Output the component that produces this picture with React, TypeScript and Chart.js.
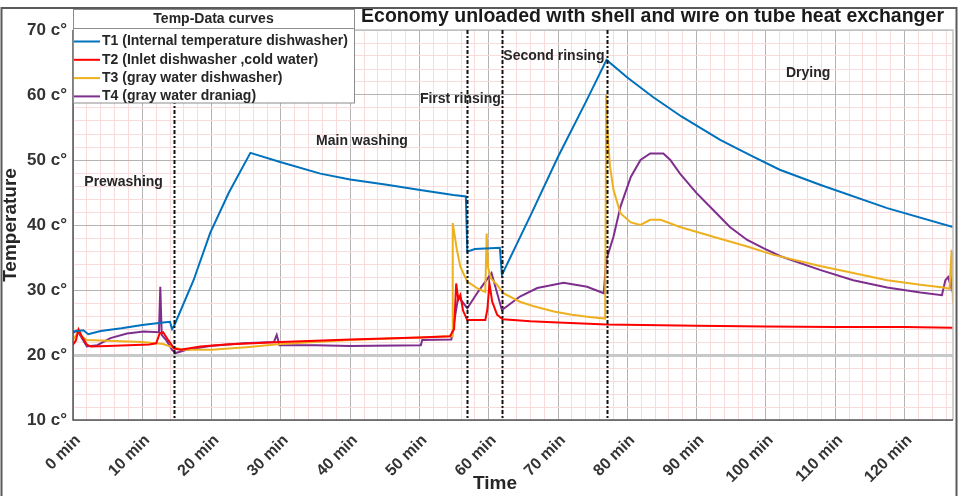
import { useEffect, useRef } from "react";
import { Chart, registerables } from "chart.js";

Chart.register(...registerables);

// ---- measured temperatures (time in minutes, temperature in °C) ----
const t1Time = [0, 1.5, 2.2, 4, 7, 10, 13, 14.0, 14.3, 14.6, 17.4, 19.8, 22.5, 25.6, 29.9, 35.7, 40, 45.3, 50.1, 54.9, 56.7, 56.9, 58, 61.6, 61.9, 66, 70, 74, 77, 80, 83.7, 87.8, 93.4, 98, 102, 107.8, 117.5, 127];
const t1Temp = [23.6, 23.8, 23.2, 23.7, 24.1, 24.6, 25.0, 25.1, 24.0, 24.5, 31.5, 38.8, 45.0, 51.1, 49.7, 47.9, 47.0, 46.2, 45.4, 44.6, 44.4, 35.9, 36.3, 36.5, 32.3, 41.4, 50.5, 58.9, 65.4, 62.7, 59.7, 56.7, 53.1, 50.6, 48.5, 46.2, 42.6, 39.7];

const t2Time = [0, 0.4, 0.8, 1.2, 2.0, 2.6, 5, 8, 11, 12.0, 12.5, 13.0, 13.8, 14.6, 15.5, 18.4, 22, 30, 40, 50, 54.4, 55.0, 55.3, 55.6, 55.9, 56.3, 56.9, 59.5, 59.8, 60.1, 60.5, 61.2, 62, 66, 70, 77, 90, 100, 110, 120, 127];
const t2Temp = [21.6, 22.2, 23.9, 23.0, 21.6, 21.3, 21.4, 21.5, 21.6, 21.8, 23.3, 23.5, 22.2, 21.0, 20.8, 21.3, 21.6, 22.0, 22.4, 22.7, 22.9, 24.0, 31.0, 28.5, 29.2, 26.8, 25.4, 25.4, 27.0, 31.0, 28.2, 26.2, 25.5, 25.2, 25.0, 24.7, 24.5, 24.4, 24.3, 24.3, 24.2];

const t3Time = [0, 0.5, 0.8, 1.3, 2, 5, 10, 13, 14.6, 16, 20, 25, 30, 40, 50, 54.7, 54.8, 55.4, 55.9, 56.9, 58.3, 59.5, 59.7, 59.9, 60.3, 61.2, 62.1, 64.5, 66.5, 69.4, 72, 74.2, 76.8, 76.95, 77.1, 77.5, 78, 79, 80.5, 81.9, 83.3, 84.8, 87.6, 92.4, 97.3, 101.1, 107.8, 112.6, 117.5, 122.3, 125.6, 126.5, 126.8, 127];
const t3Temp = [22.3, 23.2, 24.0, 22.8, 22.3, 22.2, 22.0, 21.7, 21.1, 20.8, 20.8, 21.2, 21.7, 22.3, 22.7, 22.9, 40.3, 36.2, 33.6, 31.3, 30.3, 29.7, 38.7, 33.5, 31.8, 30.8, 29.5, 28.2, 27.5, 26.7, 26.2, 25.9, 25.6, 60.0, 55.1, 49.0, 45.4, 41.8, 40.4, 40.0, 40.8, 40.8, 39.7, 38.2, 36.7, 35.4, 33.7, 32.6, 31.5, 30.8, 30.4, 30.2, 36.2, 28.0];

const t4Time = [0, 0.6, 2, 3.5, 5.4, 7.8, 10.2, 12.4, 12.6, 12.8, 13.5, 14.3, 14.8, 16.4, 19.8, 24.6, 29.0, 29.4, 29.8, 35, 40, 50.2, 50.4, 54.6, 55.6, 56.9, 58.5, 60.4, 61.9, 64.5, 67, 70.8, 74.2, 76.6, 76.95, 78, 79, 80.5, 81.9, 83.3, 85.2, 86.2, 87.6, 90, 92.4, 94.8, 97.3, 99.7, 102.1, 107.8, 112.6, 117.5, 122.3, 125.4, 125.9, 126.3, 126.7, 127];
const t4Temp = [23.4, 23.8, 21.3, 21.5, 22.6, 23.3, 23.6, 23.5, 30.5, 23.1, 22.2, 20.8, 20.3, 20.8, 21.4, 21.8, 22.0, 23.1, 21.5, 21.5, 21.4, 21.5, 22.3, 22.4, 29.0, 27.2, 29.8, 32.6, 26.9, 29.0, 30.3, 31.1, 30.5, 29.5, 34.6, 38.2, 42.8, 47.4, 50.0, 51.0, 51.0, 50.0, 47.9, 44.9, 42.3, 39.7, 37.7, 36.4, 35.2, 33.1, 31.5, 30.4, 29.6, 29.2, 31.5, 32.0, 30.5, 35.9];

const seriesNames = [
  "T1 (Internal temperature dishwasher)",
  "T2 (Inlet dishwasher ,cold water)",
  "T3 (gray water dishwasher)",
  "T4 (gray water draniag)",
];
const seriesColors = ["#0072BD", "#FF0000", "#EDB120", "#7E2F8E"];

// program phase boundaries (minutes)
const phaseBoundaries = [14.6, 56.9, 61.9, 77.0];
const phaseNames = ["Prewashing", "Main washing", "First rinsing", "Second rinsing", "Drying"];
// label anchors in data units: [minutes, °C]
const phaseAnchors: [number, number][] = [[7.3, 46.6], [41.7, 52.9], [55.9, 59.4], [69.4, 66.0], [106.1, 63.4]];

const xMajorTicks = [0, 10, 20, 30, 40, 50, 60, 70, 80, 90, 100, 110, 120];
const yMajorTicks = [10, 20, 30, 40, 50, 60, 70];

const chartTitle = "Economy unloaded with shell and wire on tube heat exchanger";
const legendTitle = "Temp-Data curves";

const FONT = '"Liberation Sans", Arial, Helvetica, sans-serif';
const TEXT = "#262626";
const MAJOR_GRID = "#b4b4b4";
const MINOR_GRID = "#f8dcdc";

export default function App() {
  const ref = useRef<HTMLCanvasElement | null>(null);

  useEffect(() => {
    document.body.style.margin = "0";
    const canvas = ref.current!;
    const toPoints = (ts: number[], vs: number[]) => ts.map((t, i) => ({ x: t, y: vs[i] }));
    const series = [
      toPoints(t1Time, t1Temp),
      toPoints(t2Time, t2Temp),
      toPoints(t3Time, t3Temp),
      toPoints(t4Time, t4Temp),
    ];

    const overlay = {
      id: "overlay",
      afterDatasetsDraw(chart: any) {
        const { ctx, chartArea: a, scales } = chart;
        const xs = scales.x;
        const ys = scales.y;
        ctx.save();
        // plot box: light top/right, dark axes
        ctx.lineWidth = 1.5;
        ctx.strokeStyle = "#c4c4c4";
        ctx.beginPath();
        ctx.moveTo(a.left, a.top);
        ctx.lineTo(a.right, a.top);
        ctx.lineTo(a.right, a.bottom);
        ctx.stroke();
        ctx.strokeStyle = "#555";
        ctx.beginPath();
        ctx.moveTo(a.left, a.top);
        ctx.lineTo(a.left, a.bottom);
        ctx.lineTo(a.right, a.bottom);
        ctx.stroke();

        // phase names
        ctx.fillStyle = TEXT;
        ctx.font = `bold 14px ${FONT}`;
        ctx.textAlign = "center";
        ctx.textBaseline = "middle";
        phaseNames.forEach((name, i) => {
          const [t, v] = phaseAnchors[i];
          ctx.fillText(name, xs.getPixelForValue(t), ys.getPixelForValue(v));
        });

        // phase boundaries
        ctx.strokeStyle = "#111";
        ctx.lineWidth = 2;
        ctx.setLineDash([4, 2, 2, 2]);
        phaseBoundaries.forEach((t) => {
          const x = Math.round(xs.getPixelForValue(t)) + 0.5;
          ctx.beginPath();
          ctx.moveTo(x, a.top);
          ctx.lineTo(x, a.bottom);
          ctx.stroke();
        });
        ctx.restore();
      },
      afterDraw(chart: any) {
        const { ctx, chartArea: a } = chart;
        ctx.save();

        // legend
        const lx = 73, ly = 9.5, lw = 281, lh = 93.5;
        ctx.fillStyle = "#fff";
        ctx.fillRect(lx, ly, lw, lh);
        ctx.strokeStyle = "#8c8c8c";
        ctx.lineWidth = 1;
        ctx.strokeRect(lx + 0.5, ly, lw, lh);
        ctx.beginPath();
        ctx.moveTo(lx, 28.5);
        ctx.lineTo(lx + lw, 28.5);
        ctx.stroke();
        ctx.fillStyle = TEXT;
        ctx.font = `bold 14px ${FONT}`;
        ctx.textAlign = "center";
        ctx.textBaseline = "middle";
        ctx.fillText(legendTitle, lx + lw / 2, 19.5);
        ctx.textAlign = "left";
        seriesNames.forEach((name, i) => {
          const y = 41.5 + i * 18.3;
          ctx.strokeStyle = seriesColors[i];
          ctx.lineWidth = 2;
          ctx.beginPath();
          ctx.moveTo(lx + 1, y);
          ctx.lineTo(lx + 27, y);
          ctx.stroke();
          ctx.fillStyle = TEXT;
          ctx.fillText(name, lx + 29, y);
        });

        // chart title
        ctx.font = `bold 19.5px ${FONT}`;
        ctx.textAlign = "center";
        ctx.textBaseline = "middle";
        ctx.fillStyle = "#1a1a1a";
        ctx.fillText(chartTitle, 652.5, 17);

        // axis titles
        ctx.font = `bold 19px ${FONT}`;
        ctx.fillStyle = TEXT;
        ctx.fillText("Time", 495, 484);
        ctx.save();
        ctx.translate(11, (a.top + a.bottom) / 2);
        ctx.rotate(-Math.PI / 2);
        ctx.fillText("Temperature", 0, 0);
        ctx.restore();

        // figure frame
        ctx.strokeStyle = "#5a5a5a";
        ctx.lineWidth = 2;
        ctx.strokeRect(1.5, 8, 955, 490);
        ctx.restore();
      },
    };

    const chart = new Chart(canvas, {
      type: "line",
      data: {
        datasets: series.map((data, i) => ({
          label: seriesNames[i],
          data,
          borderColor: seriesColors[i],
          backgroundColor: seriesColors[i],
          borderWidth: 2,
          pointRadius: 0,
          tension: 0,
          fill: false,
        })),
      },
      options: {
        responsive: false,
        animation: false,
        devicePixelRatio: 1,
        layout: { padding: { top: 30, right: 7, left: 0, bottom: 0 } },
        plugins: {
          legend: { display: false },
          tooltip: { enabled: false },
          title: { display: false },
        },
        scales: {
          x: {
            type: "linear",
            min: 0,
            max: 127,
            afterBuildTicks: (s: any) => {
              const ticks = [];
              for (let v = 0; v <= 126; v += 2) ticks.push({ value: v });
              s.ticks = ticks;
            },
            afterFit: (s: any) => {
              s.height = 76;
              s.paddingLeft = 0;
              s.paddingRight = 0;
            },
            grid: {
              drawTicks: false,
              color: (c: any) => (c.tick && xMajorTicks.includes(c.tick.value) ? MAJOR_GRID : MINOR_GRID),
              lineWidth: 1,
            },
            border: { display: false },
            ticks: {
              autoSkip: false,
              minRotation: 45,
              maxRotation: 45,
              padding: 11,
              labelOffset: 5,
              color: "#333",
              font: { family: FONT, size: 16, weight: "bold" },
              callback: (v: any) => (xMajorTicks.includes(Number(v)) ? `${v} min` : ""),
            },
          },
          y: {
            type: "linear",
            min: 10,
            max: 70,
            afterBuildTicks: (s: any) => {
              const ticks = [];
              for (let v = 10; v <= 70; v += 2) ticks.push({ value: v });
              s.ticks = ticks;
            },
            afterFit: (s: any) => {
              s.width = 73;
              s.paddingTop = 0;
              s.paddingBottom = 0;
            },
            grid: {
              drawTicks: false,
              color: (c: any) =>
                c.tick && c.tick.value === 20 ? "#c8c8c8" : c.tick && yMajorTicks.includes(c.tick.value) ? MAJOR_GRID : MINOR_GRID,
              lineWidth: (c: any) => (c.tick && c.tick.value === 20 ? 3 : 1),
            },
            border: { display: false },
            ticks: {
              autoSkip: false,
              padding: 6,
              color: "#333",
              font: { family: FONT, size: 17, weight: "bold" },
              callback: (v: any) => (yMajorTicks.includes(Number(v)) ? `${v} c°` : ""),
            },
          },
        },
      },
      plugins: [overlay],
    } as any);

    return () => chart.destroy();
  }, []);

  return (
    <div style={{ position: "absolute", left: 0, top: 0, width: 960, height: 496, background: "#fff" }}>
      <canvas ref={ref} width={960} height={496} style={{ width: 960, height: 496, display: "block" }} />
    </div>
  );
}
